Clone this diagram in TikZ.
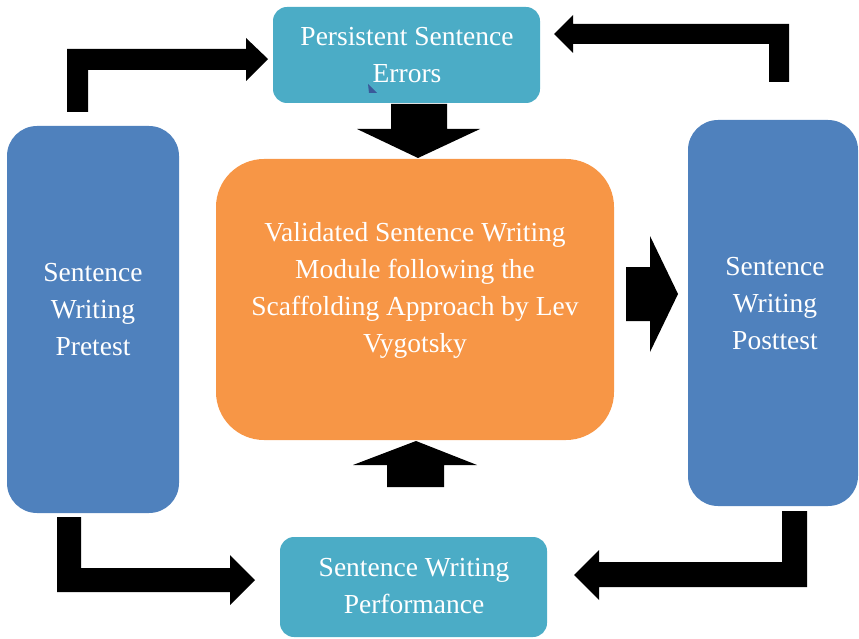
\documentclass[tikz,border=0pt]{standalone}
\usepackage{fontspec}
\setmainfont{Liberation Serif}
\definecolor{boxblue}{HTML}{4F81BD}
\definecolor{boxteal}{HTML}{4BACC6}
\definecolor{boxorange}{HTML}{F79646}
\definecolor{markblue}{HTML}{3A5A9A}
\begin{document}
\begin{tikzpicture}[x=1pt,y=-1pt,
  lbl/.style={text=white,align=center,font=\fontsize{27.5}{37}\selectfont,inner sep=0pt},
  blockarrow/.style={fill=black,draw=none}]
\useasboundingbox (0,0) rectangle (859,639);
% boxes
\fill[boxblue,rounded corners=30] (7,126) rectangle (179,513);
\fill[boxblue,rounded corners=30] (688,120) rectangle (858,506);
\fill[boxteal,rounded corners=14] (273,7) rectangle (540,103);
\fill[boxteal,rounded corners=14] (280,537) rectangle (547,637);
\fill[boxorange,rounded corners=48] (216,159) rectangle (614,440);
% labels
\node[lbl] (pre) at (93,310) {Sentence\\Writing\\Pretest};
\node[lbl] (post) at (775,303.5) {Sentence\\Writing\\Posttest};
\node[lbl] (pers) at (407,55) {Persistent Sentence\\Errors};
\node[lbl] (perf) at (414,586) {Sentence Writing\\Performance};
\node[lbl] (mod) at (415,290.5) {Validated Sentence Writing\\Module following the\\Scaffolding Approach by Lev\\Vygotsky};
% small mark
\fill[markblue] (368,84) -- (377,93) -- (369,93) -- cycle;
% block arrows
\fill[blockarrow] (67,112) -- (67,49) -- (246,49) -- (246,38) -- (268,59) -- (246,81) -- (246,70) -- (88,70) -- (88,112) -- cycle;
\fill[blockarrow] (789,82) -- (789,24) -- (573,24) -- (573,15) -- (554,34) -- (573,53) -- (573,44) -- (769,44) -- (769,82) -- cycle;
\fill[blockarrow] (57,517) -- (57,592) -- (230,592) -- (230,605) -- (255,580) -- (230,555) -- (230,568) -- (81,568) -- (81,517) -- cycle;
\fill[blockarrow] (807,511) -- (807,587) -- (599,587) -- (599,600) -- (574,575) -- (599,550) -- (599,562) -- (782,562) -- (782,511) -- cycle;
\fill[blockarrow] (391,104) -- (447,104) -- (447,129) -- (480,129) -- (418,158) -- (357,129) -- (391,129) -- cycle;
\fill[blockarrow] (387,487) -- (444,487) -- (444,465) -- (477,465) -- (416,441) -- (353,465) -- (387,465) -- cycle;
\fill[blockarrow] (626,267) -- (650,267) -- (650,236) -- (678,294) -- (650,352) -- (650,321) -- (626,321) -- cycle;
\end{tikzpicture}
\end{document}
